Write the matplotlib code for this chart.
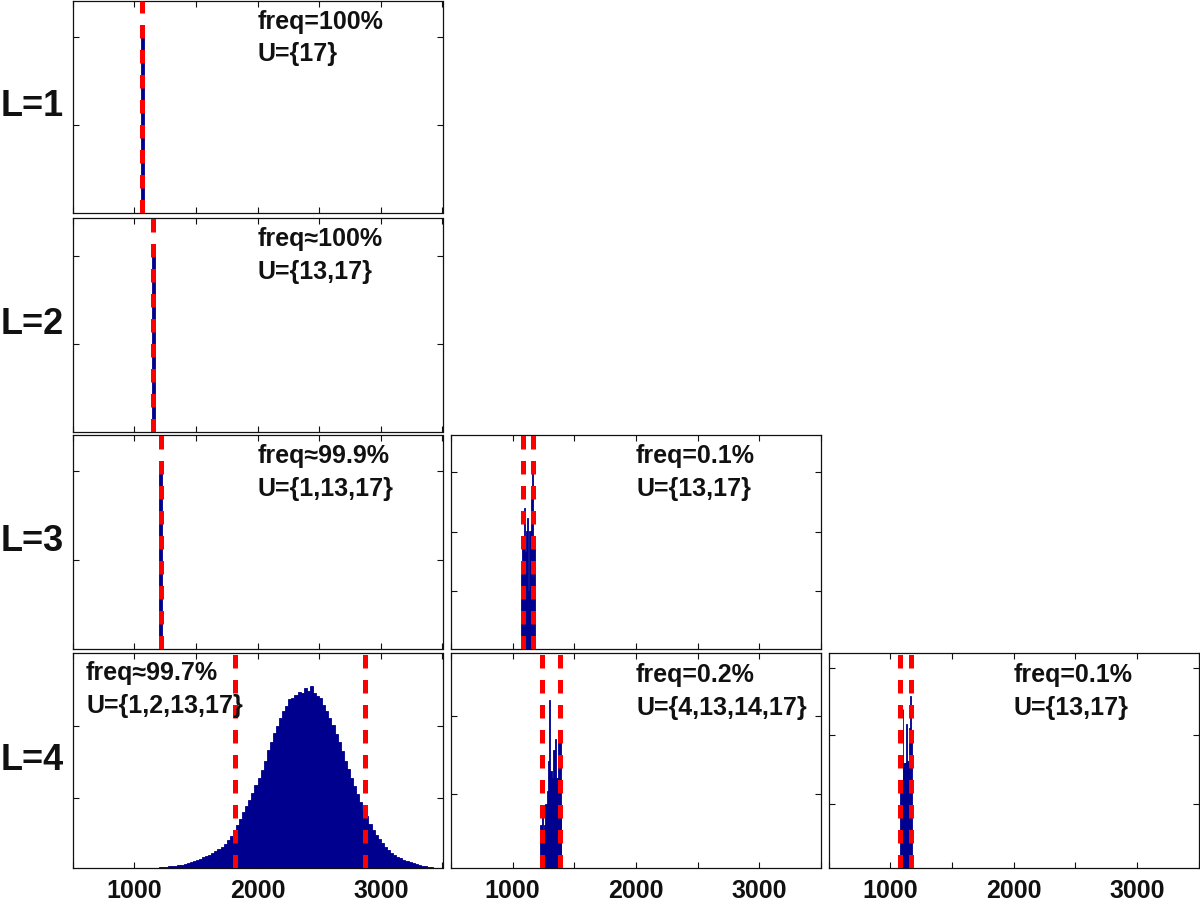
import numpy as np
import matplotlib
matplotlib.use('Agg')
import matplotlib.pyplot as plt

plt.rcParams['font.family'] = ['Liberation Sans', 'DejaVu Sans']
plt.rcParams['font.weight'] = 'bold'

NAVY = '#00008F'
RED = '#FF0000'

# ---------------- data (heights as fraction of each panel's y-range) ----------------
row_labels = ['L=1', 'L=2', 'L=3', 'L=4']

# L=1, U={17}
l1a_edges = [1054, 1076]
l1a_counts = [0.83]
l1a_lines = [1065]
l1a_text = 'freq=100%\nU={17}'

# L=2, U={13,17}
l2a_edges = [1143, 1165]
l2a_counts = [0.84]
l2a_lines = [1154]
l2a_text = 'freq≈100%\nU={13,17}'

# L=3, U={1,13,17}
l3a_edges = [1205, 1227]
l3a_counts = [0.83]
l3a_lines = [1216]
l3a_text = 'freq≈99.9%\nU={1,13,17}'

# L=3, U={13,17}
l3b_edges = [1068, 1078, 1088, 1096, 1106, 1116, 1126, 1136, 1146, 1156, 1166, 1178]
l3b_counts = [0.35, 0.50, 0.66, 0.45, 0.55, 0.61, 0.27, 0.55, 0.71, 0.83, 0.50]
l3b_lines = [1084, 1165]
l3b_text = 'freq=0.1%\nU={13,17}'

# L=4, U={1,2,13,17}  (bins of 25 starting at 1200)
l4a_start, l4a_width = 1200, 25
l4a_counts = [
    0.003, 0.004, 0.006, 0.008,
    0.009, 0.011, 0.013, 0.015,
    0.018, 0.022, 0.026, 0.031,
    0.037, 0.042, 0.050, 0.056,
    0.062, 0.070, 0.078, 0.088,
    0.098, 0.112, 0.128, 0.148,
    0.175, 0.200, 0.228, 0.262,
    0.288, 0.318, 0.350, 0.385,
    0.418, 0.458, 0.500, 0.548,
    0.585, 0.628, 0.660, 0.700,
    0.728, 0.752, 0.785, 0.790,
    0.805, 0.820, 0.812, 0.835,
    0.825, 0.846, 0.815, 0.800,
    0.790, 0.760, 0.730, 0.700,
    0.665, 0.625, 0.585, 0.545,
    0.500, 0.462, 0.420, 0.380,
    0.345, 0.305, 0.270, 0.240,
    0.205, 0.178, 0.155, 0.135,
    0.115, 0.098, 0.085, 0.072,
    0.062, 0.052, 0.045, 0.038,
    0.031, 0.026, 0.021, 0.017,
    0.013, 0.010, 0.008, 0.006,
    0.004, 0.002,
]
l4a_lines = [1816, 2871]
l4a_text = 'freq≈99.7%\nU={1,2,13,17}'

# L=4, U={4,13,14,17}
l4b_edges = [1224, 1240, 1246, 1252, 1264, 1276, 1288, 1296, 1302, 1316, 1328,
             1340, 1352, 1364, 1376, 1388, 1394]
l4b_counts = [0.20, 0.28, 0.12, 0.20, 0.30, 0.36, 0.50, 0.78, 0.45, 0.42, 0.55,
              0.60, 0.42, 0.60, 0.64, 0.30]
l4b_lines = [1241, 1381]
l4b_text = 'freq=0.2%\nU={4,13,14,17}'

# L=4, U={13,17}
l4c_edges = [1080, 1092, 1102, 1108, 1120, 1132, 1140, 1150, 1162, 1170, 1180]
l4c_counts = [0.37, 0.40, 0.74, 0.49, 0.49, 0.67, 0.50, 0.65, 0.80, 0.60]
l4c_lines = [1081, 1170]
l4c_text = 'freq=0.1%\nU={13,17}'

x_ticks = [500, 1000, 1500, 2000, 2500, 3000, 3500]
x_labels = ['', '1000', '', '2000', '', '3000', '']

l4a_edges = l4a_start + l4a_width * np.arange(len(l4a_counts) + 1)

panels = [
    # row, col, edges, counts, lines, text, text_x, text_y, yticks
    (0, 0, l1a_edges, l1a_counts, l1a_lines, l1a_text, 2000, 0.825, [0.415, 0.83]),
    (1, 0, l2a_edges, l2a_counts, l2a_lines, l2a_text, 2000, 0.825, [0.41, 0.82]),
    (2, 0, l3a_edges, l3a_counts, l3a_lines, l3a_text, 2000, 0.825, [0.415, 0.83]),
    (2, 1, l3b_edges, l3b_counts, l3b_lines, l3b_text, 2000, 0.825, [0.27, 0.545, 0.826]),
    (3, 0, l4a_edges, l4a_counts, l4a_lines, l4a_text, 610, 0.83, [0.327, 0.659]),
    (3, 1, l4b_edges, l4b_counts, l4b_lines, l4b_text, 2000, 0.82, [0.346, 0.705]),
    (3, 2, l4c_edges, l4c_counts, l4c_lines, l4c_text, 2000, 0.82, [0.30, 0.617, 0.93]),
]

# ---------------- layout ----------------
W, H = 1200, 905
fig = plt.figure(figsize=(W / 100, H / 100), dpi=100)

col_left = [72.5, 451, 828.5]
col_w = 370
row_top = [1, 218, 435, 653]
row_bot = [213, 431.5, 648.5, 868]

for r, c, edges, counts, lines, text, tx, ty, yt in panels:
    left = col_left[c] / W
    bottom = 1 - row_bot[r] / H
    height = (row_bot[r] - row_top[r]) / H
    ax = fig.add_axes([left, bottom, col_w / W, height])
    edges = np.asarray(edges, dtype=float)
    ax.bar(edges[:-1], counts, width=np.diff(edges), align='edge',
           color=NAVY, edgecolor=NAVY, linewidth=0.6, zorder=2)
    for xv in lines:
        ax.axvline(xv, color=RED, lw=3.6, linestyle=(0, (2.7, 2.3)), zorder=3)
    ax.set_xlim(500, 3500)
    ax.set_ylim(0, 1)
    ax.set_yticks(yt)
    ax.set_yticklabels([])
    ax.set_xticks(x_ticks)
    if r == 3:
        ax.set_xticklabels(x_labels)
    else:
        ax.set_xticklabels([])
    ax.tick_params(direction='in', top=True, right=True, length=4, width=0.8,
                   pad=8, colors='#111111', labelsize=18)
    for lbl in ax.get_xticklabels():
        lbl.set_fontweight('bold')
    for s in ax.spines.values():
        s.set_linewidth(0.9)
        s.set_color('#111111')
    ax.text(tx, ty, text, transform=ax.get_xaxis_transform(),
            ha='left', va='center', fontsize=18, fontweight='bold',
            color='#111111', linespacing=1.45, zorder=4)

for r, lab in enumerate(row_labels):
    yc = 1 - (row_top[r] + row_bot[r]) / 2 / H
    fig.text(32 / W, yc, lab, ha='center', va='center', fontsize=26,
             fontweight='bold', color='#111111')

fig.savefig('out.png', dpi=100)
